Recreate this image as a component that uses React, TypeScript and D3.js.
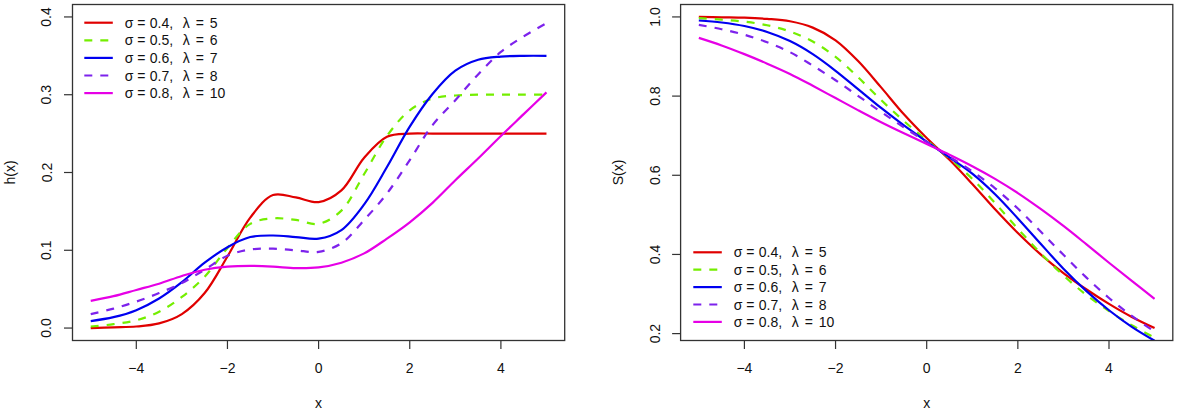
import React from "react";
import * as d3 from "d3";

// ---- data ----
const xGrid = [-5, -4.5, -4, -3.5, -3, -2.5, -2, -1.5, -1, -0.5, 0, 0.5, 1, 1.5, 2, 2.5, 3, 3.5, 4, 4.5, 5];

const sigmaLabels = ["0.4", "0.5", "0.6", "0.7", "0.8"];
const lambdaLabels = ["5", "6", "7", "8", "10"];

// hazard h(x)
const hSigma04 = [0.0, 0.001, 0.002, 0.006, 0.018, 0.045, 0.092, 0.142, 0.171, 0.168, 0.162, 0.177, 0.219, 0.246, 0.25, 0.25, 0.25, 0.25, 0.25, 0.25, 0.25];
const hSigma05 = [0.002, 0.005, 0.01, 0.021, 0.04, 0.066, 0.103, 0.134, 0.141, 0.139, 0.134, 0.151, 0.198, 0.247, 0.28, 0.295, 0.299, 0.3, 0.3, 0.3, 0.3];
const hSigma06 = [0.009, 0.014, 0.023, 0.038, 0.059, 0.084, 0.104, 0.117, 0.119, 0.117, 0.115, 0.126, 0.159, 0.207, 0.259, 0.301, 0.331, 0.345, 0.349, 0.35, 0.35];
const hSigma07 = [0.018, 0.025, 0.034, 0.045, 0.058, 0.075, 0.093, 0.101, 0.102, 0.1, 0.098, 0.109, 0.139, 0.173, 0.216, 0.261, 0.293, 0.326, 0.355, 0.375, 0.392];
const hSigma08 = [0.035, 0.041, 0.049, 0.057, 0.067, 0.075, 0.079, 0.08, 0.079, 0.077, 0.078, 0.084, 0.096, 0.115, 0.136, 0.161, 0.19, 0.218, 0.247, 0.275, 0.303];

// survival S(x)
const sSigma04 = [1.0, 0.999, 0.998, 0.995, 0.989, 0.973, 0.941, 0.888, 0.822, 0.754, 0.694, 0.639, 0.578, 0.514, 0.454, 0.4, 0.353, 0.312, 0.275, 0.242, 0.214];
const sSigma05 = [0.997, 0.993, 0.988, 0.979, 0.963, 0.938, 0.899, 0.847, 0.79, 0.737, 0.688, 0.643, 0.591, 0.53, 0.465, 0.403, 0.347, 0.298, 0.257, 0.221, 0.19];
const sSigma06 = [0.991, 0.986, 0.977, 0.962, 0.939, 0.906, 0.864, 0.817, 0.77, 0.726, 0.685, 0.645, 0.604, 0.552, 0.491, 0.427, 0.364, 0.308, 0.259, 0.217, 0.182];
const sSigma07 = [0.98, 0.969, 0.955, 0.936, 0.911, 0.877, 0.84, 0.8, 0.76, 0.721, 0.684, 0.647, 0.61, 0.567, 0.516, 0.458, 0.399, 0.342, 0.29, 0.245, 0.205];
const sSigma08 = [0.947, 0.928, 0.906, 0.882, 0.856, 0.826, 0.795, 0.764, 0.734, 0.706, 0.679, 0.652, 0.623, 0.591, 0.555, 0.515, 0.472, 0.426, 0.379, 0.333, 0.288];

const xTicks = [-4, -2, 0, 2, 4];
const hTicks = [0, 0.1, 0.2, 0.3, 0.4];
const sTicks = [0.2, 0.4, 0.6, 0.8, 1.0];

// ---- styles ----
const seriesColors = ["#E00000", "#74EE00", "#0000F0", "#7D22EC", "#E600E6"];
const seriesDash = [undefined, "8,8", undefined, "8,8", undefined];
const FONT = "'Liberation Sans', Arial, Helvetica, sans-serif";
const AXIS = "#333";
const TEXT = "#111";

type PanelProps = {
  id: string;
  left: number;
  yDomain: [number, number];
  series: number[][];
  yTicks: number[];
  yLabel: string;
  legendX: number;
  legendY: number;
  legendStep: number;
};

const TOP = 4.5;
const BOTTOM = 340.5;
const WIDTH = 492.2;

function Panel(p: PanelProps) {
  const x = d3.scaleLinear().domain([-5.4, 5.4]).range([p.left, p.left + WIDTH]);
  const y = d3.scaleLinear().domain(p.yDomain).range([BOTTOM, TOP]);
  const line = d3
    .line<number>()
    .x((_, i) => x(xGrid[i]))
    .y((d) => y(d))
    .curve(d3.curveCatmullRom.alpha(0.5));
  const right = p.left + WIDTH;
  const tx = p.legendX + 40.5;
  const lx = tx + 58;
  return (
    <g>
      <defs>
        <clipPath id={p.id}>
          <rect x={p.left} y={TOP} width={WIDTH} height={BOTTOM - TOP} />
        </clipPath>
      </defs>
      <g clipPath={`url(#${p.id})`}>
        {p.series.map((s, i) => (
          <path
            key={i}
            d={line(s) || ""}
            fill="none"
            stroke={seriesColors[i]}
            strokeWidth={2.2}
            strokeDasharray={seriesDash[i]}
          />
        ))}
      </g>
      <rect x={p.left} y={TOP} width={WIDTH} height={BOTTOM - TOP} fill="none" stroke={AXIS} strokeWidth={1.3} />
      {xTicks.map((t) => (
        <g key={"x" + t}>
          <line x1={x(t)} x2={x(t)} y1={BOTTOM} y2={BOTTOM + 8.5} stroke={AXIS} strokeWidth={1.2} />
          <text x={x(t)} y={373} textAnchor="middle" fontSize={14} fontFamily={FONT} fill={TEXT}>
            {t < 0 ? "\u2212" + Math.abs(t) : String(t)}
          </text>
        </g>
      ))}
      {p.yTicks.map((t) => (
        <g key={"y" + t}>
          <line x1={p.left - 8.5} x2={p.left} y1={y(t)} y2={y(t)} stroke={AXIS} strokeWidth={1.2} />
          <text
            x={p.left - 21}
            y={y(t)}
            transform={`rotate(-90 ${p.left - 21} ${y(t)})`}
            textAnchor="middle"
            fontSize={14}
            fontFamily={FONT}
            fill={TEXT}
          >
            {t.toFixed(1)}
          </text>
        </g>
      ))}
      <text x={(p.left + right) / 2} y={408} textAnchor="middle" fontSize={14} fontFamily={FONT} fill={TEXT}>
        x
      </text>
      <text
        x={p.left - 57.5}
        y={(TOP + BOTTOM) / 2}
        transform={`rotate(-90 ${p.left - 57.5} ${(TOP + BOTTOM) / 2})`}
        textAnchor="middle"
        fontSize={14}
        fontFamily={FONT}
        fill={TEXT}
      >
        {p.yLabel}
      </text>
      {sigmaLabels.map((sg, i) => {
        const ly = p.legendY + i * p.legendStep;
        return (
          <g key={"lg" + i} fontSize={14} fontFamily={FONT} fill={TEXT}>
            <line
              x1={p.legendX}
              x2={p.legendX + 28.5}
              y1={ly}
              y2={ly}
              stroke={seriesColors[i]}
              strokeWidth={2.2}
              strokeDasharray={seriesDash[i]}
            />
            <text x={tx} y={ly + 5}>{"\u03C3"}</text>
            <text x={tx + 12.5} y={ly + 5}>=</text>
            <text x={tx + 25} y={ly + 5}>{`${sg},`}</text>
            <text x={lx} y={ly + 5}>{"\u03BB"}</text>
            <text x={lx + 13} y={ly + 5}>=</text>
            <text x={lx + 27} y={ly + 5}>{lambdaLabels[i]}</text>
          </g>
        );
      })}
    </g>
  );
}

export default function App() {
  const hSeries = [hSigma04, hSigma05, hSigma06, hSigma07, hSigma08];
  const sSeries = [sSigma04, sSigma05, sSigma06, sSigma07, sSigma08];
  return (
    <svg
      width={1179}
      height={413}
      style={{ position: "absolute", left: 0, top: 0, background: "#fff" }}
    >
      <rect x={0} y={0} width={1179} height={413} fill="#fff" />
      <Panel
        id="clipH"
        left={72.5}
        yDomain={[-0.016, 0.416]}
        series={hSeries}
        yTicks={hTicks}
        yLabel="h(x)"
        legendX={84.3}
        legendY={22.7}
        legendStep={17.6}
      />
      <Panel
        id="clipS"
        left={680.6}
        yDomain={[0.1826, 1.0314]}
        series={sSeries}
        yTicks={sTicks}
        yLabel="S(x)"
        legendX={693.3}
        legendY={252.3}
        legendStep={17.4}
      />
    </svg>
  );
}
